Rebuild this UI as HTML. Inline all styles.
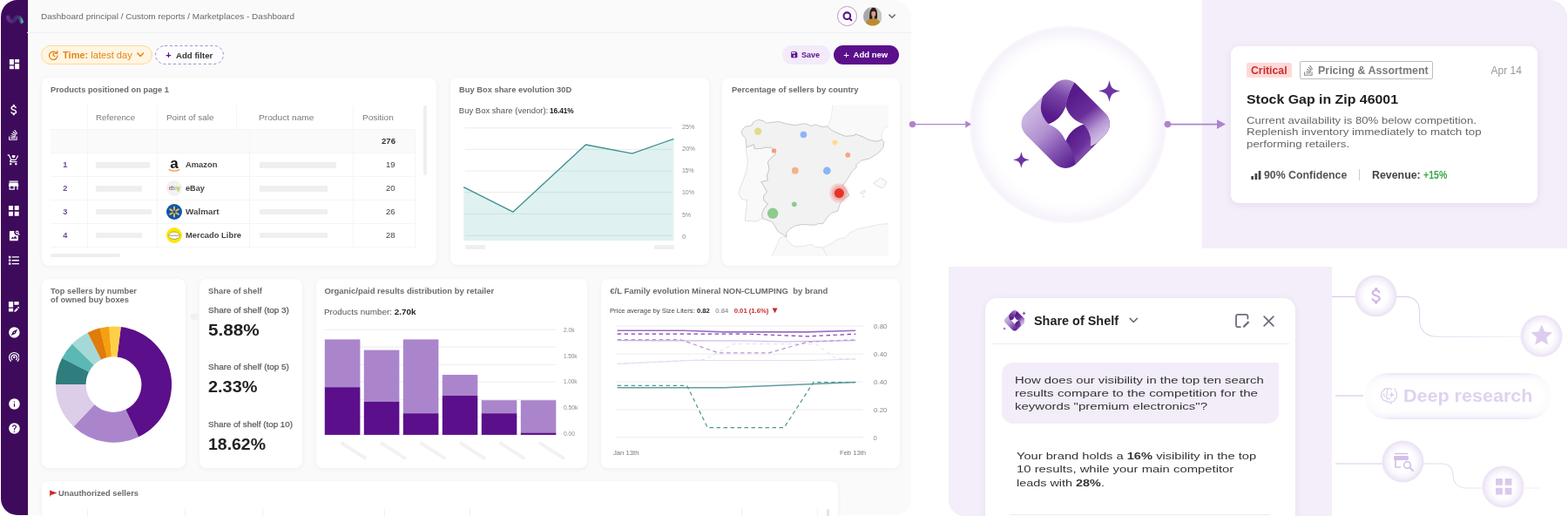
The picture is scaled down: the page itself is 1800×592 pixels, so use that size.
<!DOCTYPE html>
<html lang="en">
<head>
<meta charset="utf-8">
<title>Marketplaces - Dashboard</title>
<style>
*{box-sizing:border-box;margin:0;padding:0}
html,body{width:1800px;height:592px;overflow:hidden;background:#fff}
body{font-family:"Liberation Sans",sans-serif;color:#444}
#root{position:relative;width:1800px;height:592px;overflow:hidden;background:#fff}
#root div,#root svg,#root span.t{position:absolute}
.t{white-space:pre;display:block;transform-origin:0 0}
.card{background:#fff;border-radius:8px;box-shadow:0 1px 5px rgba(0,0,0,.055)}
.ph{background:#efefef}
b{font-weight:700}

</style>
</head>
<body>
<div id="root">
<div style="left:1.300px;top:0;width:1044.600px;height:591px;background:#fafafa;border-radius:19px 20px 18px 19px;overflow:hidden"><div style="left:0;top:0;width:30.300px;height:591px;background:#3e0a5c"></div><div style="left:30px;top:36.5px;width:1016px;height:1px;background:#efefef"></div></div>
<svg style="left:4px;top:12px" width="26" height="20" viewBox="4 12 26 20"><defs><linearGradient id="lg1" gradientUnits="userSpaceOnUse" x1="8" x2="26"><stop offset="0" stop-color="#6b2d90"/><stop offset=".45" stop-color="#45256f"/><stop offset=".78" stop-color="#40397a"/><stop offset="1" stop-color="#4cc3a2"/></linearGradient><filter id="bl1" x="-50%" y="-100%" width="200%" height="300%"><feGaussianBlur stdDeviation=".35"/></filter></defs><path d="M9.200 19.600 C10.300 25 14.600 26.200 17 22.200 C19.400 18.200 23 19.200 24.700 24.900" fill="none" stroke="url(#lg1)" stroke-width="4.300" stroke-linecap="round" filter="url(#bl1)"/></svg>
<svg class="ic" style="left:8.50px;top:65.80px" width="15" height="15" viewBox="0 0 24 24" ><path fill="#fff" d="M3 13h8V3H3v10zm0 8h8v-6H3v6zm10 0h8V11h-8v10zm0-18v6h8V3h-8z"/></svg>
<svg class="ic" style="left:7.65px;top:118.05px" width="16.3" height="16.3" viewBox="0 0 24 24" ><path fill="#fff" d="M11.8 10.9c-2.27-.59-3-1.2-3-2.15 0-1.09 1.01-1.85 2.7-1.85 1.78 0 2.44.85 2.5 2.1h2.21c-.07-1.72-1.12-3.3-3.21-3.81V3h-3v2.16c-1.94.42-3.5 1.68-3.5 3.61 0 2.31 1.91 3.46 4.7 4.13 2.5.6 3 1.48 3 2.41 0 .69-.49 1.79-2.7 1.79-2.06 0-2.87-.92-2.98-2.1h-2.2c.12 2.19 1.76 3.42 3.68 3.83V21h3v-2.15c1.95-.37 3.5-1.5 3.5-3.55 0-2.84-2.43-3.81-4.7-4.4z"/></svg>
<svg class="ic" style="left:8.20px;top:205.10px" width="15.2" height="15.2" viewBox="0 0 24 24" ><path fill="#fff" d="M20 4H4v2h16V4zm1 10v-2l-1-5H4l-1 5v2h1v6h10v-6h4v6h2v-6h1zm-9 4H6v-4h6v4z"/></svg>
<svg class="ic" style="left:8.10px;top:233.70px" width="15.6" height="15.6" viewBox="0 0 24 24" ><path fill="#fff" d="M3 3h7.600v7.600H3zM13.400 3H21v7.600h-7.600zM3 13.400h7.600V21H3zM13.400 13.400H21V21h-7.600z"/></svg>
<svg class="ic" style="left:8.70px;top:262.70px" width="15" height="15" viewBox="0 0 24 24" ><path fill="#fff" d="M3 5c0-1.1.9-2 2-2h7.2a5.5 5.5 0 0 0-.7 2.7c0 3 2.5 5.5 5.5 5.5.7 0 1.400-.13 2-.38V19c0 1.1-.9 2-2 2H5c-1.1 0-2-.9-2-2V5zm3 12h11l-3.500-4.500-2.750 3.400L8.800 13.500 6 17zM17 2.500a3.200 3.200 0 0 1 2.700 4.900l2.300 2.300-1.300 1.300-2.300-2.300A3.200 3.200 0 1 1 17 2.500zm0 1.700a1.500 1.500 0 1 0 0 3 1.500 1.500 0 0 0 0-3z"/></svg>
<svg class="ic" style="left:8.15px;top:291.35px" width="15.5" height="15.5" viewBox="0 0 24 24" ><path fill="#fff" d="M3 4.300h3.700V8H3zM3 10.150h3.700v3.700H3zM3 16h3.700v3.700H3zM8.800 5.150H21.500v2H8.800zM8.800 11H21.500v2H8.800zM8.800 16.850H21.500v2H8.800z"/></svg>
<svg class="ic" style="left:8.25px;top:344.35px" width="15.5" height="15.5" viewBox="0 0 24 24" ><path fill="#fff" d="M3 3h8v10H3V3zm10 0h8v6h-8V3zM3 15h8v6H3v-6zm17.700-2.700l1 1c.4.400.4 1 0 1.400l-.9.900-2.400-2.400.9-.9c.4-.4 1-.4 1.400 0zM13 19l4.700-4.700 2.400 2.400L15.400 21.400H13V19z"/></svg>
<svg class="ic" style="left:8.70px;top:373.70px" width="14.8" height="14.8" viewBox="0 0 24 24" ><path fill="#fff" d="M12 10.900c-.61 0-1.100.49-1.100 1.100s.49 1.100 1.100 1.100c.61 0 1.100-.49 1.100-1.100s-.49-1.100-1.100-1.100zM12 2C6.480 2 2 6.480 2 12s4.480 10 10 10 10-4.480 10-10S17.520 2 12 2zm2.190 12.190L6 18l3.810-8.190L18 6l-3.810 8.190z"/></svg>
<svg class="ic" style="left:8.50px;top:455.50px" width="15" height="15" viewBox="0 0 24 24" ><path fill="#fff" d="M12 2C6.480 2 2 6.480 2 12s4.480 10 10 10 10-4.480 10-10S17.520 2 12 2zm1 15h-2v-6h2v6zm0-8h-2V7h2v2z"/></svg>
<svg class="ic" style="left:8.50px;top:484.20px" width="15" height="15" viewBox="0 0 24 24" ><path fill="#fff" d="M12 2C6.480 2 2 6.480 2 12s4.480 10 10 10 10-4.480 10-10S17.520 2 12 2zm1 17h-2v-2h2v2zm2.070-7.750l-.9.920C13.450 12.900 13 13.500 13 15h-2v-.5c0-1.100.45-2.100 1.170-2.830l1.240-1.260c.37-.36.59-.86.59-1.410 0-1.100-.9-2-2-2s-2 .9-2 2H8c0-2.210 1.790-4 4-4s4 1.790 4 4c0 .88-.36 1.680-.93 2.250z"/></svg>
<svg class="ic" style="left:10.300px;top:148.200px" width="10.300" height="13.700" viewBox="0 0 384 512"><path fill="#fff" d="M290.700 311L95 269.700 86.800 309l195.700 41zm51-87L188.200 95.700l-25.500 30.800 153.500 128.300zm-31.200 39.700L129.200 179l-16.700 36.500L293.700 300zM262 32l-32 24 119.300 160.300 32-24zm20.500 328h-200v39.700h200zm39.700 80H42.700V320h-40v160h359.500V320h-40z"/></svg>
<svg class="ic" style="left:8.300px;top:176.300px" width="14.600" height="14.600" viewBox="0 0 24 24" fill="#fff"><path d="M7 18c-1.100 0-2 .9-2 2s.9 2 2 2 2-.9 2-2-.9-2-2-2zm10 0c-1.100 0-2 .9-2 2s.9 2 2 2 2-.9 2-2-.9-2-2-2zM1 2v2h2l3.600 7.600-1.350 2.450C4.500 15.400 5.500 17 7 17h12v-2H7.400l1.100-2h7.450c.75 0 1.400-.4 1.750-1L21.800 4.500 20 3.500 16.200 11H8.500L4.300 2H1z"/><path d="M12.500 9.200C10.500 7.600 9.300 6.500 9.300 5.200 9.300 4.200 10.100 3.400 11.100 3.400c.55 0 1.100.26 1.400.67.300-.41.850-.67 1.400-.67 1 0 1.800.8 1.800 1.800 0 1.300-1.200 2.400-3.200 4z"/></svg>
<svg style="left:9.700px;top:403.400px" width="12.600" height="12.600" viewBox="0 0 24 24" fill="none" stroke="#fff" stroke-width="2.300" stroke-linecap="round"><circle cx="12" cy="13" r="2.500" fill="#fff" stroke="none"/><path d="M7.800 18.500a6.200 6.200 0 1 1 8.400 0"/><path d="M4.600 21.500a10.800 10.800 0 1 1 14.800 0"/></svg>
<div style="left:961.100px;top:7.400px;width:22.600px;height:22.600px;border-radius:50%;border:1px solid #b596d4;background:#fff"></div>
<svg style="left:965.600px;top:11.900px" width="13.600" height="13.600" viewBox="0 0 24 24" fill="none" stroke="#5b0f8b" stroke-width="3.600" stroke-linecap="round"><circle cx="11.200" cy="11" r="6.800"/><path d="M16.300 16.100l3.700 3.700"/></svg>
<svg style="left:990.800px;top:8.100px" width="21.600" height="21.600" viewBox="0 0 40 40"><defs><clipPath id="av"><circle cx="20" cy="20" r="20"/></clipPath><filter id="avb" x="-10%" y="-10%" width="120%" height="120%"><feGaussianBlur stdDeviation=".9"/></filter></defs><g clip-path="url(#av)"><g filter="url(#avb)"><rect x="-4" y="-4" width="48" height="48" fill="#c6c6c6"/><rect x="-4" y="-4" width="17" height="48" fill="#a9a9a9"/><path d="M13.500 27 C12 12 15 1.500 21.500 1.500 C28.500 1.500 30.500 10 29.500 25 Z" fill="#2b1f1d"/><ellipse cx="21.800" cy="14.300" rx="4.600" ry="6.300" fill="#d6a288"/><path d="M16.500 11 C18 5.500 25.500 5.500 27.200 11.500 C24.500 8.500 20 8.500 16.500 11Z" fill="#2b1f1d"/><rect x="19" y="19.500" width="5" height="6" fill="#c9957a"/><path d="M3 44 C4 29 11 24.500 20.500 25 C30 24.500 37.500 28 39 44 Z" fill="#bd8a2f"/></g></g></svg>
<svg style="left:1020.300px;top:15.700px" width="8.200" height="5.800" viewBox="0 0 10 7" fill="none" stroke="#6b6f7b" stroke-width="1.900" stroke-linecap="round" stroke-linejoin="round"><path d="M1.200 1.300l3.800 3.800 3.800-3.800"/></svg>
<div style="left:47px;top:52px;width:128px;height:22px;border-radius:11px;background:#fff5e1;border:1px solid #fbdc96"></div>
<svg style="left:54.800px;top:56.700px" width="12.600" height="12.600" viewBox="0 0 24 24" fill="none" stroke="#e0861e" stroke-width="2.600" stroke-linecap="round" stroke-linejoin="round"><path d="M19.500 8A9 9 0 1 0 21 13"/><path d="M20.500 3v5.200h-5.200"/><path d="M12 7.500V12.500l3.200 2"/></svg>
<svg style="left:156.500px;top:60px" width="8.500" height="6" viewBox="0 0 10 7" fill="none" stroke="#e0861e" stroke-width="1.800" stroke-linecap="round" stroke-linejoin="round"><path d="M1 1.200l4 4 4-4"/></svg>
<svg style="left:178px;top:52px" width="79" height="22" viewBox="0 0 79 22"><rect x=".6" y=".6" width="77.800" height="20.800" rx="10.400" fill="#fdfcff" stroke="#a88bc8" stroke-width="1" stroke-dasharray="3.200 2.600"/></svg>
<div style="left:897.500px;top:52px;width:55.500px;height:22px;border-radius:11px;background:#f3ebfa"></div>
<svg class="ic" style="left:907.15px;top:58.25px" width="9.5" height="9.5" viewBox="0 0 24 24" ><path fill="#5b0f8b" d="M17 3H5c-1.110 0-2 .9-2 2v14c0 1.100.89 2 2 2h14c1.100 0 2-.9 2-2V7l-4-4zm-5 16c-1.660 0-3-1.340-3-3s1.340-3 3-3 3 1.340 3 3-1.340 3-3 3zm3-10H5V5h10v4z"/></svg>
<div style="left:956.800px;top:52px;width:75px;height:22px;border-radius:11px;background:#5b0f8b"></div>
<div class="card" style="left:48px;top:88.500px;width:453px;height:216px"></div>
<div style="left:57.800px;top:148px;width:419px;height:27.300px;background:#fafafa"></div><div style="left:57.800px;top:147.5px;width:419px;height:1px;background:#f5f5f5"></div><div style="left:57.800px;top:174.8px;width:419px;height:1px;background:#f5f5f5"></div><div style="left:57.800px;top:201.7px;width:419px;height:1px;background:#f5f5f5"></div><div style="left:57.800px;top:228.6px;width:419px;height:1px;background:#f5f5f5"></div><div style="left:57.800px;top:255.5px;width:419px;height:1px;background:#f5f5f5"></div><div style="left:57.800px;top:282.5px;width:419px;height:1px;background:#f5f5f5"></div><div style="left:100.1px;top:120.5px;width:1px;height:162.5px;background:#f5f5f5"></div><div style="left:179.9px;top:120.5px;width:1px;height:162.5px;background:#f5f5f5"></div><div style="left:271.0px;top:120.5px;width:1px;height:27.5px;background:#f5f5f5"></div><div style="left:286.3px;top:148px;width:1px;height:135px;background:#f5f5f5"></div><div style="left:404.9px;top:120.5px;width:1px;height:162.5px;background:#f5f5f5"></div><div style="left:476.3px;top:148px;width:1px;height:135px;background:#f5f5f5"></div>
<div class="ph" style="left:110.100px;top:186.1px;width:62.1px;height:6.600px"></div>
<div class="ph" style="left:297.800px;top:186.1px;width:88.2px;height:6.600px"></div>
<div class="ph" style="left:110.100px;top:213.0px;width:52.7px;height:6.600px"></div>
<div class="ph" style="left:297.800px;top:213.0px;width:78.2px;height:6.600px"></div>
<div class="ph" style="left:110.100px;top:239.8px;width:64.1px;height:6.600px"></div>
<div class="ph" style="left:297.800px;top:239.8px;width:78.2px;height:6.600px"></div>
<div class="ph" style="left:110.100px;top:266.7px;width:52.7px;height:6.600px"></div>
<div class="ph" style="left:297.800px;top:266.7px;width:78.2px;height:6.600px"></div>
<svg style="left:190.800px;top:179.700px" width="18" height="18" viewBox="0 0 18 18"><text x="9" y="13.200" text-anchor="middle" font-family="Liberation Sans,sans-serif" font-weight="700" font-size="17" fill="#111">a</text><path d="M3.200 14.600 Q9 17.800 14.800 14.600" fill="none" stroke="#f29a2e" stroke-width="1.300" stroke-linecap="round"/></svg>
<svg style="left:190.800px;top:206.700px" width="18" height="18" viewBox="0 0 18 18"><circle cx="9" cy="9" r="9" fill="#f1f1f1"/><text x="9" y="11.300" text-anchor="middle" font-family="Liberation Sans,sans-serif" font-size="6.500" letter-spacing="-.4"><tspan fill="#e53238">e</tspan><tspan fill="#0064d2">b</tspan><tspan fill="#f5af02">a</tspan><tspan fill="#86b817">y</tspan></text></svg>
<svg style="left:190.800px;top:233.700px" width="18" height="18" viewBox="0 0 18 18"><circle cx="9" cy="9" r="9" fill="#0b56b3"/><g stroke="#fdbb30" stroke-width="2" stroke-linecap="round"><path d="M9 3.400v3.100M9 11.500v3.100M4.150 6.200l2.700 1.550M11.150 10.250l2.700 1.550M4.150 11.800l2.700-1.550M11.150 7.750l2.700-1.550"/></g></svg>
<svg style="left:190.800px;top:260.700px" width="18" height="18" viewBox="0 0 18 18"><circle cx="9" cy="9" r="9" fill="#ffe600"/><ellipse cx="9" cy="9.200" rx="6.300" ry="4.200" fill="#fff" stroke="#9a9a3a" stroke-width=".9"/><path d="M3.500 8.500 Q6 10.500 9 9 Q12 10.500 14.500 8.500" fill="none" stroke="#8a8a6a" stroke-width=".9"/></svg>
<div style="left:486.200px;top:120.500px;width:4.200px;height:80.500px;border-radius:2px;background:#efefef"></div>
<div style="left:57.800px;top:290.700px;width:80.500px;height:4.300px;border-radius:2px;background:#eee"></div>
<div class="card" style="left:516.500px;top:88.500px;width:297px;height:215px"></div>
<svg style="left:516px;top:88px" width="298" height="216" viewBox="516 88 298 216"><path d="M533.800 146.8H771.600" stroke="#ececec" stroke-width="1"/><path d="M533.800 171.4H771.600" stroke="#ececec" stroke-width="1"/><path d="M533.800 196.2H771.600" stroke="#ececec" stroke-width="1"/><path d="M533.800 220.6H771.600" stroke="#ececec" stroke-width="1"/><path d="M533.800 245.4H771.600" stroke="#ececec" stroke-width="1"/><path d="M533.800 270.3H771.600" stroke="#ececec" stroke-width="1"/><polygon points="532.2,214.6 588.9,243.2 672.4,166 725.7,176.2 773.5,159.3 773.500,276.200 532.200,276.200" fill="#2aa5a0" fill-opacity=".15"/><polyline points="532.2,214.6 588.9,243.2 672.4,166 725.7,176.2 773.5,159.3" fill="none" stroke="#3f8f8f" stroke-width="1.300" stroke-linejoin="round"/></svg>
<div class="ph" style="left:533.800px;top:280.800px;width:23px;height:5.400px"></div>
<div class="ph" style="left:751.400px;top:280.800px;width:22.600px;height:5.400px"></div>
<div class="card" style="left:829px;top:88.500px;width:204px;height:216px"></div>
<svg style="left:840px;top:115px" width="190" height="185" viewBox="840 115 190 185" stroke-linejoin="round"><defs><clipPath id="mapclip"><rect x="845" y="120.600" width="174.900" height="173.100"/></clipPath></defs><g clip-path="url(#mapclip)"><polygon points="956.5,118.4 1024.1,118.4 1024.1,143.7 1019.9,144.6 1014.0,147.9 1011.9,155.5 1012.6,160.3 1006.4,162.3 1000.4,161.4 995.4,159.8 991.2,157.2 981.9,153.8 981.0,155.5 970.9,156.4 965.0,154.2 954.8,149.6 949.8,145.1 951.1,142.9 954.0,135.3" fill="#f9f9f9" stroke="#e3e3e3" stroke-width=".7"/><polygon points="885.3,296.3 886.4,293.7 895.7,272.6 901.6,270.9 903.3,274.3 907.6,280.2 914.3,283.1 924.4,281.9 932.0,280.2 934.6,283.1 944.7,284.1 954.8,279.4 961.6,274.3 970.0,272.6 975.1,267.6 985.2,262.5 998.8,260.0 1008.9,257.4 1019.9,256.6 1024.1,256.2 1024.1,296.3" fill="#f9f9f9" stroke="#dddddd" stroke-width=".7"/><polyline points="944.7,284.1 950.6,296.3" fill="none" stroke="#dddddd" stroke-width=".7"/><polygon points="856.9,169.0 856.0,170.7 858.6,185.9 856.9,196.1 853.5,206.2 850.1,214.6 848.1,222.0 851.8,228.7 857.7,229.6 856.9,238.8 855.2,253.2 868.7,254.0 875.5,250.7 874.6,245.6 877.2,239.7 881.4,233.8 877.2,230.4 876.3,225.3 880.5,220.3 878.0,215.2 873.8,208.7 881.4,207.0 880.5,201.1 883.1,194.4 881.4,185.9 884.8,181.7 890.7,176.6 889.0,172.4 885.6,169.4 878.8,169.0 873.8,170.4 866.2,170.7 865.3,165.7" fill="#f9f9f9" stroke="#d6d6d6" stroke-width=".7"/><polygon points="851.0,150.5 855.2,145.4 862.8,144.0 864.5,140.3 870.4,137.3 876.3,138.6 879.7,141.2 894.0,139.5 902.5,142.0 912.6,143.7 924.4,141.7 931.2,144.6 936.3,142.9 943.0,145.4 949.8,145.1 954.8,149.6 965.0,154.2 970.9,156.4 981.0,155.5 981.9,153.8 991.2,157.2 995.4,159.8 1000.4,161.4 1006.4,162.3 1012.3,160.3 1014.8,163.1 1014.0,169.0 1008.9,175.0 998.8,181.7 988.6,184.2 982.7,189.3 983.2,191.8 978.5,196.1 973.4,204.5 967.5,212.7 972.6,220.3 975.1,224.2 970.0,227.0 965.0,232.1 961.6,242.2 954.8,244.2 949.8,249.0 944.7,256.6 939.6,256.6 934.6,258.3 921.1,257.4 912.6,259.1 905.9,263.3 902.5,267.6 902.8,271.8 899.1,269.2 892.4,265.0 889.0,258.3 885.6,254.0 875.5,250.7 874.6,245.6 877.2,239.7 881.4,233.8 877.2,230.4 876.3,225.3 880.5,220.3 878.0,215.2 873.8,208.7 881.4,207.0 880.5,201.1 883.1,194.4 881.4,185.9 884.8,181.7 890.7,176.6 889.0,172.4 885.6,169.4 878.8,169.0 873.8,170.4 866.2,170.7 865.3,165.7 856.9,169.0 856.0,158.9 852.7,155.5" fill="#f2f2f2" stroke="#bcbcbc" stroke-width=".8"/><polygon points="1003.0,210.1 1010.6,204.2 1014.0,205.9 1017.7,208.4 1015.6,213.5 1012.3,215.7 1007.2,213.5" fill="#fafafa" stroke="#cfcfcf" stroke-width=".7"/><polygon points="987.8,221.1 992.0,218.1 993.7,219.4 990.3,222.8" fill="#fafafa" stroke="#cfcfcf" stroke-width=".7"/><circle cx="991.5" cy="225.7" r=".8" fill="#ccc"/><circle cx="870.1" cy="150.8" r="4.2" fill="#e0dc8c" fill-opacity="1"/><circle cx="922.4" cy="154.5" r="3.8" fill="#8ab4f8" fill-opacity="1"/><circle cx="958.4" cy="163.3" r="2.9" fill="#fade8a" fill-opacity="1"/><circle cx="888.5" cy="172.9" r="2.7" fill="#f0a080" fill-opacity="1"/><circle cx="973.3" cy="177.8" r="2.9" fill="#f4a582" fill-opacity="1"/><circle cx="912.8" cy="195.7" r="3.9" fill="#f5b08c" fill-opacity="1"/><circle cx="949.3" cy="195.9" r="4.3" fill="#8ab4f8" fill-opacity="1"/><circle cx="963.3" cy="221.6" r="11" fill="#e63329" fill-opacity="0.16"/><circle cx="963.3" cy="221.6" r="8.5" fill="#e63329" fill-opacity="0.2"/><circle cx="963.3" cy="221.6" r="5.6" fill="#e63329" fill-opacity="1"/><circle cx="911.8" cy="234.3" r="2.9" fill="#8fca8f" fill-opacity="1"/><circle cx="887.1" cy="244.8" r="6.2" fill="#8fca8f" fill-opacity="1"/></g></svg>
<div class="card" style="left:47.500px;top:320px;width:165.600px;height:216.500px"></div>
<svg style="left:60px;top:370px" width="140" height="140" viewBox="60 370 140 140"><path fill="#5b0f8b" d="M138.62 375.00A66.6 66.6 0 0 1 158.96 501.31L144.13 469.94A31.9 31.9 0 0 0 134.39 409.44Z"/><path fill="#ab85cc" d="M159.28 501.16A66.6 66.6 0 0 1 84.40 489.17L108.42 464.12A31.9 31.9 0 0 0 144.28 469.87Z"/><path fill="#dccde8" d="M84.66 489.41A66.6 66.6 0 0 1 63.90 440.75L98.60 440.93A31.9 31.9 0 0 0 108.54 464.24Z"/><path fill="#2f7d7d" d="M63.90 441.10A66.6 66.6 0 0 1 71.26 410.66L102.13 426.52A31.9 31.9 0 0 0 98.60 441.10Z"/><path fill="#5cb8b4" d="M71.11 410.97A66.6 66.6 0 0 1 83.00 394.42L107.75 418.74A31.9 31.9 0 0 0 102.05 426.67Z"/><path fill="#a5d9d8" d="M82.75 394.67A66.6 66.6 0 0 1 100.99 381.39L116.37 412.50A31.9 31.9 0 0 0 107.63 418.86Z"/><path fill="#e07b0c" d="M100.68 381.55A66.6 66.6 0 0 1 114.84 376.37L123.00 410.09A31.9 31.9 0 0 0 116.22 412.58Z"/><path fill="#f5a010" d="M114.50 376.45A66.6 66.6 0 0 1 125.51 374.69L128.11 409.29A31.9 31.9 0 0 0 122.84 410.13Z"/><path fill="#fdd04a" d="M125.16 374.71A66.6 66.6 0 0 1 138.96 375.04L134.55 409.46A31.9 31.9 0 0 0 127.94 409.30Z"/></svg>
<div class="card" style="left:229.300px;top:320px;width:117.300px;height:216.500px"></div>
<div style="left:219px;top:360px;width:9px;height:7px;background:#f1f1f1;border-radius:2px"></div>
<div class="card" style="left:362.700px;top:320px;width:311.700px;height:216.500px"></div>
<svg style="left:362px;top:370px" width="313" height="166" viewBox="362 370 313 166"><path d="M372.400 378.1H638" stroke="#ececec" stroke-width="1"/><path d="M372.400 398.1H638" stroke="#ececec" stroke-width="1"/><path d="M372.400 418.2H638" stroke="#ececec" stroke-width="1"/><path d="M372.400 438.2H638" stroke="#ececec" stroke-width="1"/><path d="M372.400 458.3H638" stroke="#ececec" stroke-width="1"/><path d="M372.400 478.3H638" stroke="#ececec" stroke-width="1"/><path d="M372.400 498.4H638" stroke="#ececec" stroke-width="1"/><rect x="372.8" y="389.4" width="40.6" height="54.8" fill="#ab85cc"/><rect x="372.8" y="444.2" width="40.6" height="54.7" fill="#5b0f8b"/><rect x="417.8" y="401.6" width="40.6" height="59.2" fill="#ab85cc"/><rect x="417.8" y="460.8" width="40.6" height="38.1" fill="#5b0f8b"/><rect x="462.8" y="389.4" width="40.6" height="84.8" fill="#ab85cc"/><rect x="462.8" y="474.2" width="40.6" height="24.7" fill="#5b0f8b"/><rect x="507.8" y="430" width="40.5" height="23.9" fill="#ab85cc"/><rect x="507.8" y="453.9" width="40.5" height="45.0" fill="#5b0f8b"/><rect x="552.8" y="459.2" width="40.5" height="15.0" fill="#ab85cc"/><rect x="552.8" y="474.2" width="40.5" height="24.7" fill="#5b0f8b"/><rect x="597.8" y="459.2" width="40.5" height="37.3" fill="#ab85cc"/><rect x="597.8" y="496.5" width="40.5" height="2.4" fill="#5b0f8b"/><path d="M391.5 507.8L420.5 526.4" stroke="#f2f2f2" stroke-width="4" stroke-linecap="butt"/><path d="M437.0 507.8L466.0 526.4" stroke="#f2f2f2" stroke-width="4" stroke-linecap="butt"/><path d="M482.5 507.8L511.5 526.4" stroke="#f2f2f2" stroke-width="4" stroke-linecap="butt"/><path d="M528.0 507.8L557.0 526.4" stroke="#f2f2f2" stroke-width="4" stroke-linecap="butt"/><path d="M573.5 507.8L602.5 526.4" stroke="#f2f2f2" stroke-width="4" stroke-linecap="butt"/><path d="M619.0 507.8L648.0 526.4" stroke="#f2f2f2" stroke-width="4" stroke-linecap="butt"/></svg>
<div class="card" style="left:690px;top:320px;width:343px;height:216.500px"></div>
<svg style="left:690px;top:365px" width="343" height="170" viewBox="690 365 343 170" fill="none"><path d="M707.600 374.1H990.700" stroke="#ececec" stroke-width="1"/><path d="M707.600 406.2H990.700" stroke="#ececec" stroke-width="1"/><path d="M707.600 438.0H990.700" stroke="#ececec" stroke-width="1"/><path d="M707.600 470.1H990.700" stroke="#ececec" stroke-width="1"/><path d="M707.600 501.8H990.700" stroke="#ececec" stroke-width="1"/><polyline points="708.6,417.4 791.4,413.6 926.5,413.6 982.2,412.0" stroke="#e6d9f2" stroke-width="1" stroke-linejoin="round"/><polyline points="708.6,417.4 808.2,412.6 842.0,394.7 936.6,394.7 960.3,411.6 982.2,411.6" stroke="#e6d9f2" stroke-width="1" stroke-linejoin="round" stroke-dasharray="4.500 3.500"/><polyline points="708.6,390.7 858.9,391.0 899.5,392.0 982.2,390.7" stroke="#cdb0e6" stroke-width="1.2" stroke-linejoin="round"/><polyline points="708.6,389.7 781.2,389.7 825.1,404.9 882.6,404.9 926.5,392.4 982.2,389.7" stroke="#b893d8" stroke-width="1.2" stroke-linejoin="round" stroke-dasharray="4.500 3.500"/><polyline points="708.6,383.2 858.9,383.2 926.5,385.9 982.2,383.2" stroke="#7b3fb0" stroke-width="1.2" stroke-linejoin="round" stroke-dasharray="4.500 3.500"/><polyline points="708.6,379.2 784.6,379.2 831.9,380.9 926.5,380.9 982.2,379.2" stroke="#9b6cc4" stroke-width="1.6" stroke-linejoin="round"/><polyline points="708.6,444.7 831.9,444.7 982.2,438.6" stroke="#5f9e9e" stroke-width="1.5" stroke-linejoin="round"/><polyline points="708.6,442.4 788.6,442.4 812.3,490.7 900.1,490.7 933.9,438.6 982.2,438.6" stroke="#4f9494" stroke-width="1.2" stroke-linejoin="round" stroke-dasharray="4.500 3.500"/></svg>
<div class="card" style="left:47.500px;top:551.700px;width:914.500px;height:60px"></div>
<svg style="left:57px;top:562px" width="9" height="8" viewBox="0 0 9 8"><path d="M.5 .8L8.500 3.600L.8 6.200Z" fill="#d32323"/><path d="M.6 .5V7.500" stroke="#d32323" stroke-width=".8"/></svg>
<div style="left:99.8px;top:584px;width:1px;height:8px;background:#f0f0f0"></div>
<div style="left:211.7px;top:584px;width:1px;height:8px;background:#f0f0f0"></div>
<div style="left:301.2px;top:584px;width:1px;height:8px;background:#f0f0f0"></div>
<div style="left:441.1px;top:584px;width:1px;height:8px;background:#f0f0f0"></div>
<div style="left:539.0px;top:584px;width:1px;height:8px;background:#f0f0f0"></div>
<div style="left:851.2px;top:584px;width:1px;height:8px;background:#f0f0f0"></div>
<div style="left:937.8px;top:584px;width:1px;height:8px;background:#f0f0f0"></div>
<div style="left:948.500px;top:584px;width:3.500px;height:8px;border-radius:2px 2px 0 0;background:#e4e4e4"></div>
<div style="left:1379.500px;top:0;width:419px;height:284.700px;background:#f3eef9;border-radius:0 20px 0 0"></div>
<div style="left:1088.500px;top:306px;width:440.500px;height:286px;background:#f3eef9;border-radius:0 0 0 18px"></div>
<div style="left:1112px;top:28.500px;width:228px;height:228px;border-radius:50%;background:radial-gradient(circle closest-side,#fff 0,#fff 78%,#fdfcfe 85%,#f9f7fc 91%,#f6f3fa 95.500%,#f6f3fa 97.500%,rgba(249,247,252,.6) 99%,rgba(255,255,255,0) 100%)"></div>
<svg style="left:1172.10px;top:90.80px" width="102.4" height="102.4" viewBox="0 0 100 100"><defs><clipPath id="lk1"><rect x="10" y="10" width="80" height="80" rx="17" transform="rotate(45 50 50)"/></clipPath><linearGradient id="la1" gradientUnits="userSpaceOnUse" x1="8" y1="42" x2="58" y2="96"><stop offset="0" stop-color="#c9b4e0"/><stop offset=".35" stop-color="#b191d0"/><stop offset=".7" stop-color="#7f4fae"/><stop offset="1" stop-color="#5a1f8e"/></linearGradient><linearGradient id="lb1" gradientUnits="userSpaceOnUse" x1="58" y1="18" x2="92" y2="62"><stop offset="0" stop-color="#571b8b"/><stop offset=".45" stop-color="#6a2f9a"/><stop offset=".8" stop-color="#b596d2"/><stop offset="1" stop-color="#cdb9e3"/></linearGradient><linearGradient id="lc1" gradientUnits="userSpaceOnUse" x1="52" y1="2" x2="34" y2="42"><stop offset="0" stop-color="#a683c9"/><stop offset=".4" stop-color="#7a45a8"/><stop offset="1" stop-color="#561a8a"/></linearGradient><linearGradient id="ld1" gradientUnits="userSpaceOnUse" x1="55" y1="62" x2="78" y2="82"><stop offset="0" stop-color="#561a8a"/><stop offset=".6" stop-color="#6a2f9a"/><stop offset="1" stop-color="#8a5cb6"/></linearGradient></defs><g clip-path="url(#lk1)"><rect x="-5" y="-5" width="110" height="110" fill="url(#la1)"/><path d="M59.800 3.600 L80 -20 L125 50 L77.800 75.400 C79.500 66 76.500 57 69.900 50.200 L50 50 L50.200 31.100 C51 22 55 12 59.800 3.600 Z" fill="url(#lb1)"/><path d="M25.100 17.900 L50 -8 L59.800 3.600 C55 12 51 22 50.200 31.100 L50 50 L31.100 50 C25 44 21.500 36 22.500 29 C23 25 24 21 25.100 17.900 Z" fill="url(#lc1)"/><path d="M69.900 50.200 C76.500 57 79.500 66 77.800 75.400 L95 95 L61 94.500 C60 85 56 76 50.200 68.700 L50 50 Z" fill="url(#ld1)"/><path d="M50.200 30.600 C54 41 60 46.800 70.400 50.200 C60 53.800 54 59.500 50.200 69.200 C46 59.500 40.500 53.800 30.600 50.200 C40.500 46.800 46 41 50.200 30.600 Z" fill="#fff"/></g></svg>
<svg style="left:1261.3px;top:91.5px" width="25.0" height="25.0" viewBox="-12.5 -12.5 25.0 25.0"><path d="M0 -12.5C2.0 -3.2 3.2 -2.0 12.5 0C3.2 2.0 2.0 3.2 0 12.5C-2.0 3.2 -3.2 2.0 -12.5 0C-3.2 -2.0 -2.0 -3.2 0 -12.5Z" fill="#6e35a3"/></svg>
<svg style="left:1163.2px;top:174.1px" width="18.8" height="18.8" viewBox="-9.4 -9.4 18.8 18.8"><path d="M0 -9.4C1.504 -2.4064 2.4064 -1.504 9.4 0C2.4064 1.504 1.504 2.4064 0 9.4C-1.504 2.4064 -2.4064 1.504 -9.4 0C-2.4064 -1.504 -1.504 -2.4064 0 -9.4Z" fill="#6e35a3"/></svg>
<svg style="left:1040px;top:130px" width="380" height="26" viewBox="1040 130 380 26"><path d="M1047.500 142.600H1110" stroke="#ab85cc" stroke-width="1.400"/><circle cx="1047.500" cy="142.600" r="3.700" fill="#ab85cc"/><path d="M1108.300 138.500L1115 142.600L1108.300 146.700Z" fill="#ab85cc"/><path d="M1340.400 142.600H1399" stroke="#ab85cc" stroke-width="1.600"/><circle cx="1340.400" cy="142.600" r="3.800" fill="#ab85cc"/><path d="M1397 137.200L1407 142.600L1397 148Z" fill="#ab85cc"/></svg>
<div style="left:1413px;top:52.600px;width:351.900px;height:180.200px;background:#fff;border-radius:9px;box-shadow:0 2px 8px rgba(120,80,160,.10)"></div>
<div style="left:1431.100px;top:72.100px;width:51.700px;height:17.200px;background:#ffd9d9;border-radius:2px"></div>
<div style="left:1492.200px;top:70.400px;width:152.800px;height:20.300px;background:#fff;border:1px solid #bdbdbd;border-radius:2px"></div>
<svg class="ic" style="left:1497.300px;top:74px" width="10.200" height="13.600" viewBox="0 0 384 512"><path fill="#8a8a8a" d="M290.700 311L95 269.700 86.800 309l195.700 41zm51-87L188.200 95.700l-25.500 30.800 153.500 128.300zm-31.200 39.700L129.200 179l-16.700 36.500L293.700 300zM262 32l-32 24 119.300 160.300 32-24zm20.500 328h-200v39.700h200zm39.700 80H42.700V320h-40v160h359.500V320h-40z"/></svg>
<svg style="left:1436px;top:195.500px" width="12" height="10" viewBox="0 0 12 10"><path fill="#444" d="M.3 6h2.700v4H.3zM4.500 3h2.700v7H4.500zM8.700 0h2.700v10H8.700z"/></svg>
<div style="left:1559.600px;top:193.700px;width:1px;height:13.500px;background:#ccc"></div>
<div style="left:1130.500px;top:341.900px;width:356.800px;height:270px;background:#fff;border-radius:14px;box-shadow:0 2px 8px rgba(120,80,160,.08)"></div>
<svg style="left:1152.95px;top:356.25px" width="23.5" height="23.5" viewBox="0 0 100 100"><defs><clipPath id="lk2"><rect x="10" y="10" width="80" height="80" rx="17" transform="rotate(45 50 50)"/></clipPath><linearGradient id="la2" gradientUnits="userSpaceOnUse" x1="8" y1="42" x2="58" y2="96"><stop offset="0" stop-color="#c9b4e0"/><stop offset=".35" stop-color="#b191d0"/><stop offset=".7" stop-color="#7f4fae"/><stop offset="1" stop-color="#5a1f8e"/></linearGradient><linearGradient id="lb2" gradientUnits="userSpaceOnUse" x1="58" y1="18" x2="92" y2="62"><stop offset="0" stop-color="#571b8b"/><stop offset=".45" stop-color="#6a2f9a"/><stop offset=".8" stop-color="#b596d2"/><stop offset="1" stop-color="#cdb9e3"/></linearGradient><linearGradient id="lc2" gradientUnits="userSpaceOnUse" x1="52" y1="2" x2="34" y2="42"><stop offset="0" stop-color="#a683c9"/><stop offset=".4" stop-color="#7a45a8"/><stop offset="1" stop-color="#561a8a"/></linearGradient><linearGradient id="ld2" gradientUnits="userSpaceOnUse" x1="55" y1="62" x2="78" y2="82"><stop offset="0" stop-color="#561a8a"/><stop offset=".6" stop-color="#6a2f9a"/><stop offset="1" stop-color="#8a5cb6"/></linearGradient></defs><g clip-path="url(#lk2)"><rect x="-5" y="-5" width="110" height="110" fill="url(#la2)"/><path d="M59.800 3.600 L80 -20 L125 50 L77.800 75.400 C79.500 66 76.500 57 69.900 50.200 L50 50 L50.200 31.100 C51 22 55 12 59.800 3.600 Z" fill="url(#lb2)"/><path d="M25.100 17.900 L50 -8 L59.800 3.600 C55 12 51 22 50.200 31.100 L50 50 L31.100 50 C25 44 21.500 36 22.500 29 C23 25 24 21 25.100 17.900 Z" fill="url(#lc2)"/><path d="M69.900 50.200 C76.500 57 79.500 66 77.800 75.400 L95 95 L61 94.500 C60 85 56 76 50.200 68.700 L50 50 Z" fill="url(#ld2)"/><path d="M50.200 30.600 C54 41 60 46.800 70.400 50.200 C60 53.800 54 59.500 50.200 69.200 C46 59.500 40.500 53.800 30.600 50.200 C40.500 46.800 46 41 50.200 30.600 Z" fill="#fff"/></g></svg>
<svg style="left:1173.4px;top:356.9px" width="5.0" height="5.0" viewBox="-2.5 -2.5 5.0 5.0"><path d="M0 -2.5C0.4 -0.6400000000000001 0.6400000000000001 -0.4 2.5 0C0.6400000000000001 0.4 0.4 0.6400000000000001 0 2.5C-0.4 0.6400000000000001 -0.6400000000000001 0.4 -2.5 0C-0.6400000000000001 -0.4 -0.4 -0.6400000000000001 0 -2.5Z" fill="#7a45ab"/></svg>
<svg style="left:1151.4px;top:375.3px" width="4" height="4" viewBox="-2 -2 4 4"><path d="M0 -2C0.32 -0.512 0.512 -0.32 2 0C0.512 0.32 0.32 0.512 0 2C-0.32 0.512 -0.512 0.32 -2 0C-0.512 -0.32 -0.32 -0.512 0 -2Z" fill="#7a45ab"/></svg>
<svg style="left:1296.200px;top:364.300px" width="10.500" height="7.600" viewBox="0 0 11 8" fill="none" stroke="#6b6f7b" stroke-width="1.700" stroke-linecap="round" stroke-linejoin="round"><path d="M1.200 1.500l4.300 4.300 4.300-4.300"/></svg>
<svg style="left:1416.500px;top:359px" width="18" height="18" viewBox="0 0 18 18" fill="none" stroke="#6b6f7b" stroke-width="1.800" stroke-linecap="round" stroke-linejoin="round"><path d="M15.400 6.500V3.800a2 2 0 0 0-2-2H4a2 2 0 0 0-2 2v10.400a2 2 0 0 0 2 2h2.800"/><path d="M10.300 16.300L16.500 10.100" stroke-width="2.300" stroke-linecap="butt"/></svg>
<svg style="left:1449.900px;top:361.700px" width="13" height="13" viewBox="0 0 13 13" fill="none" stroke="#6b6f7b" stroke-width="1.800" stroke-linecap="round"><path d="M1.200 1.200l10.600 10.600M11.800 1.200L1.200 11.800"/></svg>
<div style="left:1138.600px;top:393.800px;width:341px;height:1px;background:#ececec"></div>
<div style="left:1149.700px;top:415.800px;width:318.100px;height:70.200px;background:#f2edf8;border-radius:13px 2px 13px 13px"></div>
<div style="left:1159px;top:589.500px;width:299px;height:1px;background:#efeaf3"></div>
<svg style="left:1529px;top:300px" width="271" height="292" viewBox="1529 300 271 292" fill="none"><defs><linearGradient id="fd1" gradientUnits="userSpaceOnUse" x1="1603" x2="1746"><stop offset="0" stop-color="#dccdee"/><stop offset="1" stop-color="#f3eef9"/></linearGradient><linearGradient id="fd2" gradientUnits="userSpaceOnUse" x1="1634" x2="1800"><stop offset="0" stop-color="#e4d8f1"/><stop offset="1" stop-color="#f6f2fa"/></linearGradient></defs><path d="M1529 340.400H1556" stroke="#d9c9ec" stroke-width="1.200"/><path d="M1603 340.400H1613C1623.500 340.400 1629.500 347 1629.500 357V367C1629.500 379 1637.500 386.200 1650 386.200H1746" stroke="url(#fd1)" stroke-width="1.100"/><path d="M1533 454H1565" stroke="#d9c9ec" stroke-width="1.200"/><path d="M1533 532H1587" stroke="#d9c9ec" stroke-width="1.200"/><path d="M1634 532H1655C1663 532 1668 537 1668 545C1668 553 1673 560 1683 560H1702M1750 560H1768" stroke="url(#fd2)" stroke-width="1.100"/></svg>
<div style="left:1554.8px;top:314.7px;width:49.0px;height:49.0px;border-radius:50%;background:radial-gradient(circle closest-side,#fff 0,#fff 48%,#faf8fd 66%,#f3eefa 82%,#ece4f5 92%,#ece4f5 95.500%,rgba(240,234,247,.5) 98%,rgba(255,255,255,0) 100%)"></div>
<div style="left:1745.4px;top:360.5px;width:49.0px;height:49.0px;border-radius:50%;background:radial-gradient(circle closest-side,#fff 0,#fff 48%,#faf8fd 66%,#f3eefa 82%,#ece4f5 92%,#ece4f5 95.500%,rgba(240,234,247,.5) 98%,rgba(255,255,255,0) 100%)"></div>
<div style="left:1586.2px;top:504.7px;width:49.0px;height:49.0px;border-radius:50%;background:radial-gradient(circle closest-side,#fff 0,#fff 48%,#faf8fd 66%,#f3eefa 82%,#ece4f5 92%,#ece4f5 95.500%,rgba(240,234,247,.5) 98%,rgba(255,255,255,0) 100%)"></div>
<div style="left:1701.4px;top:533.6px;width:49.0px;height:49.0px;border-radius:50%;background:radial-gradient(circle closest-side,#fff 0,#fff 48%,#faf8fd 66%,#f3eefa 82%,#ece4f5 92%,#ece4f5 95.500%,rgba(240,234,247,.5) 98%,rgba(255,255,255,0) 100%)"></div>
<svg class="ic" style="left:1567.55px;top:327.35px" width="24.5" height="24.5" viewBox="0 0 24 24" ><path fill="#cdb8e3" d="M11.8 10.9c-2.27-.59-3-1.2-3-2.15 0-1.09 1.01-1.85 2.7-1.85 1.78 0 2.44.85 2.5 2.1h2.21c-.07-1.72-1.12-3.3-3.21-3.81V3h-3v2.16c-1.94.42-3.5 1.68-3.5 3.61 0 2.31 1.91 3.46 4.7 4.13 2.5.6 3 1.48 3 2.41 0 .69-.49 1.79-2.7 1.79-2.06 0-2.87-.92-2.98-2.1h-2.2c.12 2.19 1.76 3.42 3.68 3.83V21h3v-2.15c1.95-.37 3.5-1.5 3.5-3.55 0-2.84-2.43-3.81-4.7-4.4z"/></svg>
<svg class="ic" style="left:1755.15px;top:370.25px" width="29.5" height="29.5" viewBox="0 0 24 24" ><path fill="#dccdee" d="M12 17.270L18.180 21l-1.640-7.030L22 9.240l-7.190-.61L12 2 9.190 8.630 2 9.240l5.460 4.730L5.820 21z"/></svg>
<svg class="ic" style="left:1713.95px;top:545.85px" width="24.5" height="24.5" viewBox="0 0 24 24" ><path fill="#d9c9ec" d="M3 3h7.600v7.600H3zM13.400 3H21v7.600h-7.600zM3 13.400h7.600V21H3zM13.400 13.400H21V21h-7.600z"/></svg>
<svg style="left:1598.500px;top:517.500px" width="25" height="24" viewBox="0 0 25 24" fill="none"><path d="M2 2.500h15M2 6h15v3H2zM3 10v8h6" stroke="#d3c0e8" stroke-width="1.700"/><rect x="2" y="5" width="15" height="5" fill="#d3c0e8"/><circle cx="16.500" cy="15.500" r="3.800" stroke="#d3c0e8" stroke-width="1.700"/><path d="M19.500 18.500l3.500 3.500" stroke="#d3c0e8" stroke-width="1.900" stroke-linecap="round"/></svg>
<div style="left:1565.500px;top:427.800px;width:215.700px;height:52.900px;border-radius:27px;background:#fff;box-shadow:inset 0 0 11px rgba(160,120,205,.32), inset 0 0 2px rgba(160,120,205,.12);-webkit-mask-image:linear-gradient(90deg,rgba(0,0,0,.05) 0,#000 15%,#000 85%,rgba(0,0,0,.05) 100%);mask-image:linear-gradient(90deg,rgba(0,0,0,.05) 0,#000 15%,#000 85%,rgba(0,0,0,.05) 100%)"></div>
<svg style="left:1583.500px;top:443.800px" width="21.500" height="20" viewBox="0 0 21.500 20" fill="none" stroke="#ddd0ee" stroke-width="1.300" stroke-linecap="round" stroke-linejoin="round"><path d="M9 2.200C7.200 1 4.800 2 4.600 4.200C2.600 4.400 1.300 6.500 2.200 8.400C.9 9.800 1.200 12.200 3 13C3 15 5 16.300 6.800 15.600C7.600 17 9.200 17.400 10.300 16.800L12.800 19L13.600 16.600C15.600 17 17.400 15.600 17.300 13.600C19.200 13 20 10.800 19 9C20 7.500 19.500 5.500 17.800 4.800"/><path d="M9 2.200C10.500 1.200 12.600 1.500 13.500 3"/><path d="M9 2.200C7.800 5 8.800 7.500 7.600 9.500C6.800 11 7.800 12.500 9 12.800M4.800 7.500C4 8.800 4.600 10.200 5.600 10.600M8.200 14C9.500 13.200 11 13.300 12 13.800"/><path d="M13.600 5.300L14.600 8L17.300 9L14.600 10L13.600 12.700L12.600 10L9.900 9L12.600 8Z" fill="#ddd0ee" stroke="none"/><path d="M17.200 .8L17.700 2.300L19.200 2.800L17.700 3.300L17.200 4.800L16.700 3.300L15.200 2.800L16.700 2.300Z" fill="#ddd0ee" stroke="none"/></svg>
<span class="t" style="left:47.20px;top:14px;font-size:9.8px;line-height:9.8px;color:#6a6a6a;transform:scaleX(1.0199);">Dashboard principal / Custom reports / Marketplaces - Dashboard</span>
<span class="t" style="left:72.30px;top:58px;font-size:11px;line-height:11px;color:#e0861e;transform:scaleX(1.0053);"><b>Time:</b> latest day</span>
<span class="t" style="left:190.20px;top:58px;font-size:11px;line-height:11px;font-weight:700;color:#5b0f8b;">+</span>
<span class="t" style="left:201.50px;top:59px;font-size:9.5px;line-height:9.5px;font-weight:700;color:#333;transform:scaleX(1.0143);">Add filter</span>
<span class="t" style="left:919.80px;top:58px;font-size:9.5px;line-height:9.5px;font-weight:700;color:#5b0f8b;transform:scaleX(0.9465);">Save</span>
<span class="t" style="left:968.20px;top:58px;font-size:11.5px;line-height:11.5px;color:#fff;">+</span>
<span class="t" style="left:979.60px;top:58px;font-size:9.5px;line-height:9.5px;font-weight:700;color:#fff;">Add new</span>
<span class="t" style="left:57.80px;top:98px;font-size:9.5px;line-height:9.5px;font-weight:700;color:#6b6b6b;transform:scaleX(0.9796);">Products positioned on page 1</span>
<span class="t" style="left:110.10px;top:130px;font-size:9.5px;line-height:9.5px;color:#7a7a7a;transform:scaleX(1.0309);">Reference</span>
<span class="t" style="left:191.00px;top:130px;font-size:9.5px;line-height:9.5px;color:#7a7a7a;transform:scaleX(1.0421);">Point of sale</span>
<span class="t" style="left:296.80px;top:130px;font-size:9.5px;line-height:9.5px;color:#7a7a7a;transform:scaleX(1.0734);">Product name</span>
<span class="t" style="left:416.00px;top:130px;font-size:9.5px;line-height:9.5px;color:#7a7a7a;transform:scaleX(1.0588);">Position</span>
<span class="t" style="left:437.50px;top:157px;font-size:9.5px;line-height:9.5px;font-weight:700;color:#333;transform:scaleX(1.0089);">276</span>
<span class="t" style="left:72.30px;top:185px;font-size:9.2px;line-height:9.2px;font-weight:700;color:#7048a0;">1</span>
<span class="t" style="left:212.70px;top:184px;font-size:9.5px;line-height:9.5px;font-weight:700;color:#444;transform:scaleX(0.9877);">Amazon</span>
<span class="t" style="left:442.92px;top:184px;font-size:9.5px;line-height:9.5px;color:#444;">19</span>
<span class="t" style="left:72.30px;top:212px;font-size:9.2px;line-height:9.2px;font-weight:700;color:#7048a0;">2</span>
<span class="t" style="left:212.70px;top:211px;font-size:9.5px;line-height:9.5px;font-weight:700;color:#444;transform:scaleX(0.9640);">eBay</span>
<span class="t" style="left:442.92px;top:211px;font-size:9.5px;line-height:9.5px;color:#444;">20</span>
<span class="t" style="left:72.30px;top:239px;font-size:9.2px;line-height:9.2px;font-weight:700;color:#7048a0;">3</span>
<span class="t" style="left:212.70px;top:238px;font-size:9.5px;line-height:9.5px;font-weight:700;color:#444;transform:scaleX(1.0366);">Walmart</span>
<span class="t" style="left:442.92px;top:238px;font-size:9.5px;line-height:9.5px;color:#444;">26</span>
<span class="t" style="left:72.30px;top:266px;font-size:9.2px;line-height:9.2px;font-weight:700;color:#7048a0;">4</span>
<span class="t" style="left:212.70px;top:265px;font-size:9.5px;line-height:9.5px;font-weight:700;color:#444;transform:scaleX(0.9856);">Mercado Libre</span>
<span class="t" style="left:442.92px;top:265px;font-size:9.5px;line-height:9.5px;color:#444;">28</span>
<span class="t" style="left:526.80px;top:98px;font-size:9.5px;line-height:9.5px;font-weight:700;color:#6b6b6b;transform:scaleX(0.9829);">Buy Box share evolution 30D</span>
<span class="t" style="left:526.80px;top:122px;font-size:9.5px;line-height:9.5px;color:#555;">Buy Box share (vendor):</span>
<span class="t" style="left:631.10px;top:122px;font-size:9.5px;line-height:9.5px;font-weight:700;color:#222;transform:scaleX(0.8800);letter-spacing:-0.129px;">16.41%</span>
<span class="t" style="left:783.00px;top:142px;font-size:8px;line-height:8px;color:#8a8a8a;transform:scaleX(0.9054);">25%</span>
<span class="t" style="left:783.00px;top:167px;font-size:8px;line-height:8px;color:#8a8a8a;transform:scaleX(0.9366);">20%</span>
<span class="t" style="left:783.00px;top:192px;font-size:8px;line-height:8px;color:#8a8a8a;transform:scaleX(0.8800);letter-spacing:-0.337px;">15%</span>
<span class="t" style="left:783.00px;top:217px;font-size:8px;line-height:8px;color:#8a8a8a;transform:scaleX(0.8800);letter-spacing:-0.053px;">10%</span>
<span class="t" style="left:783.00px;top:243px;font-size:8px;line-height:8px;color:#8a8a8a;transform:scaleX(0.8800);letter-spacing:-0.199px;">5%</span>
<span class="t" style="left:783.00px;top:268px;font-size:8px;line-height:8px;color:#8a8a8a;">0</span>
<span class="t" style="left:839.70px;top:98px;font-size:9.5px;line-height:9.5px;font-weight:700;color:#6b6b6b;transform:scaleX(0.9913);">Percentage of sellers by country</span>
<span class="t" style="left:57.80px;top:329px;font-size:9.5px;line-height:9.5px;font-weight:700;color:#6b6b6b;transform:scaleX(0.9835);">Top sellers by number</span>
<span class="t" style="left:57.80px;top:339px;font-size:9.5px;line-height:9.5px;font-weight:700;color:#6b6b6b;transform:scaleX(0.9856);">of owned buy boxes</span>
<span class="t" style="left:239.10px;top:329px;font-size:9.5px;line-height:9.5px;font-weight:700;color:#6b6b6b;transform:scaleX(0.9868);">Share of shelf</span>
<span class="t" style="left:239.10px;top:351px;font-size:9.5px;line-height:9.5px;color:#555;transform:scaleX(1.0471);-webkit-text-stroke:.25px #666;">Share of shelf (top 3)</span>
<span class="t" style="left:239.10px;top:370px;font-size:18.8px;line-height:18.8px;font-weight:700;color:#222;transform:scaleX(1.1039);">5.88%</span>
<span class="t" style="left:239.10px;top:416px;font-size:9.5px;line-height:9.5px;color:#555;transform:scaleX(1.0471);-webkit-text-stroke:.25px #666;">Share of shelf (top 5)</span>
<span class="t" style="left:239.10px;top:435px;font-size:18.8px;line-height:18.8px;font-weight:700;color:#222;transform:scaleX(1.0588);">2.33%</span>
<span class="t" style="left:239.10px;top:482px;font-size:9.5px;line-height:9.5px;color:#555;transform:scaleX(1.0319);-webkit-text-stroke:.25px #666;">Share of shelf (top 10)</span>
<span class="t" style="left:239.10px;top:501px;font-size:18.8px;line-height:18.8px;font-weight:700;color:#222;transform:scaleX(1.0361);">18.62%</span>
<span class="t" style="left:372.40px;top:329px;font-size:9.5px;line-height:9.5px;font-weight:700;color:#6b6b6b;">Organic/paid results distribution by retailer</span>
<span class="t" style="left:372.40px;top:353px;font-size:9.5px;line-height:9.5px;color:#555;transform:scaleX(1.0394);">Products number: <b style="color:#222">2.70k</b></span>
<span class="t" style="left:646.90px;top:376px;font-size:6.5px;line-height:6.5px;color:#8a8a8a;transform:scaleX(1.0165);">2.0k</span>
<span class="t" style="left:646.90px;top:406px;font-size:6.5px;line-height:6.5px;color:#8a8a8a;transform:scaleX(0.9745);">1.50k</span>
<span class="t" style="left:646.90px;top:435px;font-size:6.5px;line-height:6.5px;color:#8a8a8a;transform:scaleX(0.9745);">1.00k</span>
<span class="t" style="left:646.90px;top:465px;font-size:6.5px;line-height:6.5px;color:#8a8a8a;transform:scaleX(1.0373);">0.50k</span>
<span class="t" style="left:646.90px;top:495px;font-size:6.5px;line-height:6.5px;color:#8a8a8a;transform:scaleX(1.0272);">0.00</span>
<span class="t" style="left:700.30px;top:329px;font-size:9.5px;line-height:9.5px;font-weight:700;color:#6b6b6b;">€/L Family evolution Mineral NON-CLUMPING  by brand</span>
<span class="t" style="left:700.30px;top:353px;font-size:7.2px;line-height:7.2px;color:#444;transform:scaleX(1.0690);">Price average by Size Liters: <b style="color:#222">0.82</b>   <span style="color:#777">0.84</span>   <b style="color:#c62828">0.01 (1.6%)</b> <span style="color:#c62828;font-size:9.500px;line-height:0">▼</span></span>
<span class="t" style="left:1002.50px;top:371px;font-size:7.5px;line-height:7.5px;color:#8a8a8a;transform:scaleX(1.0610);">0.80</span>
<span class="t" style="left:1002.50px;top:403px;font-size:7.5px;line-height:7.5px;color:#8a8a8a;transform:scaleX(1.0610);">0.40</span>
<span class="t" style="left:1002.50px;top:435px;font-size:7.5px;line-height:7.5px;color:#8a8a8a;transform:scaleX(1.0610);">0.40</span>
<span class="t" style="left:1002.50px;top:467px;font-size:7.5px;line-height:7.5px;color:#8a8a8a;transform:scaleX(1.0610);">0.20</span>
<span class="t" style="left:1002.50px;top:499px;font-size:7.5px;line-height:7.5px;color:#8a8a8a;">0</span>
<span class="t" style="left:704.30px;top:516px;font-size:7.2px;line-height:7.2px;color:#777;transform:scaleX(1.0697);">Jan 13th</span>
<span class="t" style="left:963.50px;top:516px;font-size:7.2px;line-height:7.2px;color:#777;transform:scaleX(1.0573);">Feb 13th</span>
<span class="t" style="left:66.70px;top:561px;font-size:9.5px;line-height:9.5px;font-weight:700;color:#6b6b6b;transform:scaleX(0.9845);">Unauthorized sellers</span>
<span class="t" style="left:1436.10px;top:75px;font-size:12.5px;line-height:12.5px;font-weight:700;color:#c9302c;transform:scaleX(0.9813);">Critical</span>
<span class="t" style="left:1513.20px;top:75px;font-size:12.5px;line-height:12.5px;font-weight:700;color:#7a7a7a;transform:scaleX(0.9949);">Pricing &amp; Assortment</span>
<span class="t" style="left:1711.50px;top:75px;font-size:12px;line-height:12px;color:#999;">Apr 14</span>
<span class="t" style="left:1431.10px;top:106px;font-size:15.5px;line-height:15.5px;font-weight:700;color:#222;transform:scaleX(1.0253);">Stock Gap in Zip 46001</span>
<span class="t" style="left:1431.10px;top:133px;font-size:11.5px;line-height:11.5px;color:#666;transform:scaleX(1.1437);">Current availability is 80% below competition.</span>
<span class="t" style="left:1431.10px;top:146px;font-size:11.5px;line-height:11.5px;color:#666;transform:scaleX(1.1619);">Replenish inventory immediately to match top</span>
<span class="t" style="left:1431.10px;top:160px;font-size:11.5px;line-height:11.5px;color:#666;transform:scaleX(1.1558);">performing retailers.</span>
<span class="t" style="left:1451.40px;top:195px;font-size:12px;line-height:12px;font-weight:700;color:#555;transform:scaleX(1.0280);">90% Confidence</span>
<span class="t" style="left:1574.70px;top:195px;font-size:12px;line-height:12px;font-weight:700;color:#444;transform:scaleX(1.0309);">Revenue:</span>
<span class="t" style="left:1634.10px;top:195px;font-size:12px;line-height:12px;font-weight:700;color:#3aa648;transform:scaleX(0.8800);">+15%</span>
<span class="t" style="left:1187.30px;top:360px;font-size:15px;line-height:15px;font-weight:700;color:#222;transform:scaleX(0.9617);">Share of Shelf</span>
<span class="t" style="left:1165.10px;top:430px;font-size:11.7px;line-height:11.7px;color:#333;transform:scaleX(1.2710);">How does our visibility in the top ten search</span>
<span class="t" style="left:1165.10px;top:445px;font-size:11.7px;line-height:11.7px;color:#333;transform:scaleX(1.2975);">results compare to the competition for the</span>
<span class="t" style="left:1165.10px;top:460px;font-size:11.7px;line-height:11.7px;color:#333;transform:scaleX(1.2850);">keywords "premium electronics"?</span>
<span class="t" style="left:1166.90px;top:517px;font-size:11.7px;line-height:11.7px;color:#333;transform:scaleX(1.2551);">Your brand holds a <b>16%</b> visibility in the top</span>
<span class="t" style="left:1166.90px;top:532px;font-size:11.7px;line-height:11.7px;color:#333;transform:scaleX(1.2708);">10 results, while your main competitor</span>
<span class="t" style="left:1166.90px;top:548px;font-size:11.7px;line-height:11.7px;color:#333;transform:scaleX(1.2321);">leads with <b>28%</b>.</span>
<span class="t" style="left:1611.30px;top:444px;font-size:20px;line-height:20px;font-weight:700;color:#dfd2ef;transform:scaleX(1.0763);">Deep research</span>
</div>
</body>
</html>
